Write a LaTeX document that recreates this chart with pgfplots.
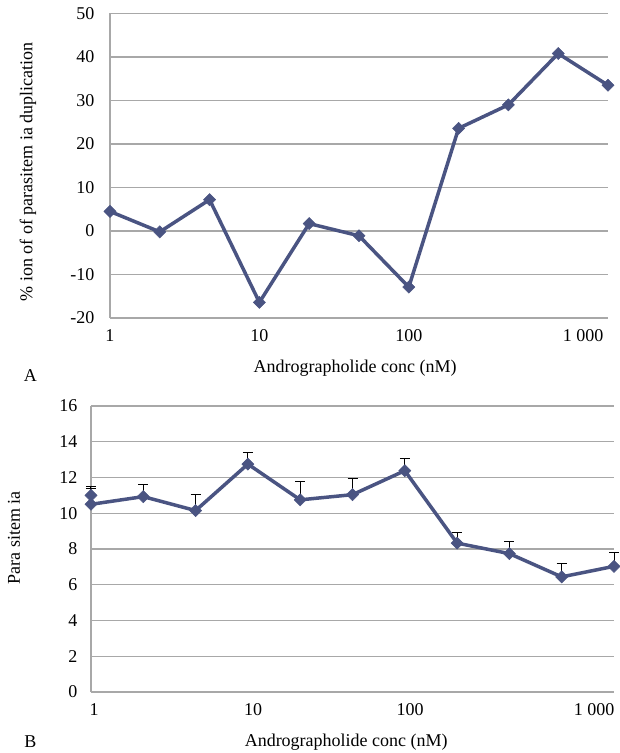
\documentclass[border=0pt]{standalone}
\usepackage{fontspec}
\setmainfont{Liberation Serif}
\usepackage{pgfplots}
\pgfplotsset{compat=1.18}
\definecolor{ln}{HTML}{4A5482}
\definecolor{gr}{HTML}{A8A8A8}
\pgfplotsset{
  mystyle/.style={
    scale only axis,
    axis lines*=left,
    axis line style={gr, line width=1.2pt, -},
    ymajorgrids,
    major grid style={gr, line width=1.2pt},
    major tick length=0pt,
    tick style={draw=none},
    xmin=0, xmax=10,
    /pgf/number format/assume math mode=true,
    tick label style={font=\fontsize{18}{20}\selectfont},
    label style={font=\fontsize{18}{20}\selectfont},
    clip=false,
  },
  myline/.style={ln, line width=3.5pt, mark=square*, mark size=4.3pt,
    mark options={rotate=45, fill=ln, draw=ln, line width=0.5pt}},
  myerr/.style={error bars/.cd, y dir=plus, y explicit,
    error bar style={black, line width=1pt},
    error mark options={rotate=90, mark size=5pt, black, line width=1pt}},
}
\begin{document}
\begin{tikzpicture}
\path[use as bounding box] (0pt,0pt) rectangle (620pt,753pt);
\begin{axis}[mystyle,
  at={(110pt,435pt)}, anchor=south west, width=498pt, height=304.5pt,
  ymin=-20, ymax=50, ytick={-20,-10,...,50},
  xtick={0,3,6,9.5}, xticklabels={1,10,100,1 000},
  xticklabel style={yshift=-8pt},
  yticklabel style={xshift=-12pt},
  xlabel={Andrographolide conc (nM)},
  xlabel style={at={(axis description cs:0.492,0)}, anchor=center, yshift=-50pt},
  ylabel={\% ion of of parasitem ia duplication},
  ylabel style={at={(axis description cs:-0.165,0.48)}, anchor=center, rotate=0},
]
\addplot[myline] coordinates {
(0,4.5) (1,-0.2) (2,7.2) (3,-16.4) (4,1.7) (5,-1.1) (6,-12.9) (7,23.6) (8,29.0) (9,40.8) (10,33.5)};
\node[font=\fontsize{18}{20}\selectfont] at (axis description cs:-0.16,-0.19) {A};
\end{axis}
\begin{axis}[mystyle,
  at={(91pt,61pt)}, anchor=south west, width=523pt, height=286pt,
  ymin=0, ymax=16, ytick={0,2,...,16},
  xtick={0.06,3.1,6.1,9.62}, xticklabels={1,10,100,1 000},
  xticklabel style={yshift=-8pt},
  yticklabel style={xshift=-10pt},
  xlabel={Andrographolide conc (nM)},
  xlabel style={at={(axis description cs:0.488,0)}, anchor=center, yshift=-50pt},
  ylabel={Para sitem ia},
  ylabel style={at={(axis description cs:-0.147,0.54)}, anchor=center, rotate=0},
]
\addplot[myline, myerr] coordinates {
(0,10.5) +- (0,0.9)
(1,10.93) +- (0,0.67)
(2,10.15) +- (0,0.88)
(3,12.75) +- (0,0.63)
(4,10.75) +- (0,1.02)
(5,11.04) +- (0,0.88)
(6,12.38) +- (0,0.71)
(7,8.33) +- (0,0.58)
(8,7.74) +- (0,0.67)
(9,6.44) +- (0,0.74)
(10,7.03) +- (0,0.75)};
\addplot[myline, myerr] coordinates {(0,11.0) +- (0,0.52)};
\node[font=\fontsize{18}{20}\selectfont] at (axis description cs:-0.116,-0.172) {B};
\end{axis}
\end{tikzpicture}
\end{document}
